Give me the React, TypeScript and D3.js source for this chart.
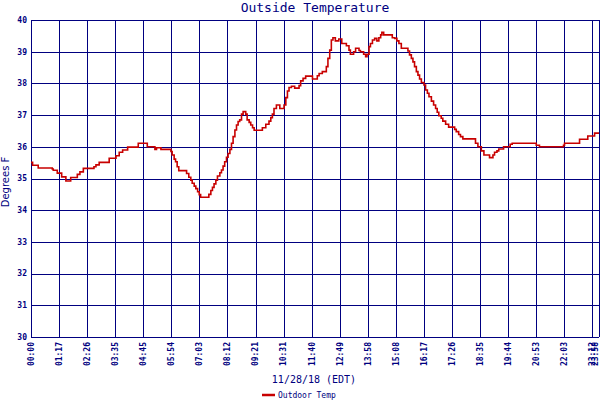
import React from "react";
import * as d3 from "d3";

// x positions are sample indices (the chart's x axis is sample-based, not time-linear)
const sampleIndex: number[] = [
  0, 0.8, 3.6, 10.6, 11.1, 13.1, 15.3, 17.4, 19.8, 23.1, 24.4, 26.1, 31.4, 32.4, 34.0, 39.0, 42.4, 44.0, 45.7, 48.2,
  53.5, 58.0, 61.8, 62.6, 64.8, 69.8, 70.4, 71.4, 72.1, 72.9, 73.7, 77.6, 78.7, 79.7, 80.4, 81.4, 82.2, 83.1, 83.9, 84.6,
  88.7, 89.7, 90.5, 91.3, 92.2, 93.0, 94.2, 95.0, 95.8, 96.6, 97.5, 98.3, 99.2, 100.0, 100.8, 101.7, 102.5, 103.3,
  104.1, 105.0, 105.8, 107.1, 107.8, 108.8, 109.6, 110.5, 111.3, 115.4, 117.1, 118.7, 119.6, 120.4, 121.2, 122.4, 124.1,
  126.2, 127.1, 127.9, 128.7, 129.9, 131.5, 133.7, 134.5, 135.7, 137.0, 140.4, 142.8, 143.7, 145.3, 147.3, 148.1, 149.0,
  149.8, 150.6, 151.8, 153.5, 155.0, 157.3, 158.6, 159.3, 160.9, 161.9, 163.6, 164.3, 165.9, 166.9, 167.6, 168.6, 169.3,
  170.3, 171.4, 172.5, 173.5, 174.4, 175.0, 175.9, 180.2, 181.4, 182.5, 183.5, 184.7, 188.0, 188.8, 189.7, 190.5, 191.3,
  192.2, 193.0, 193.8, 194.7, 196.0, 196.8, 197.7, 198.5, 199.7, 200.8, 201.8, 202.6, 203.4, 204.6, 205.4, 206.8, 208.3,
  211.3, 212.1, 213.3, 214.2, 215.4, 221.7, 222.9, 224.6, 225.9, 228.7, 230.4, 231.2, 232.4, 233.3, 235.7, 239.0, 240.0,
  252.0, 253.6, 265.6, 266.1, 273.6, 277.7, 281.1, 283.3,
];

const tempF: number[] = [
  35.51, 35.42, 35.33, 35.3, 35.26, 35.17, 35.05, 34.92, 35.03, 35.13, 35.21, 35.32, 35.37, 35.43, 35.51, 35.64, 35.72, 35.83, 35.9, 35.99,
  36.11, 36.0, 35.92, 35.97, 35.92, 35.85, 35.74, 35.61, 35.53, 35.37, 35.25, 35.16, 35.04, 34.95, 34.85, 34.76, 34.68, 34.58, 34.49, 34.41,
  34.5, 34.62, 34.72, 34.83, 34.95, 35.08, 35.18, 35.27, 35.39, 35.53, 35.67, 35.79, 35.92, 36.11, 36.32, 36.53, 36.69, 36.8,
  36.85, 37.03, 37.11, 37.03, 36.85, 36.77, 36.69, 36.6, 36.52, 36.6, 36.71, 36.81, 36.92, 37.03, 37.21, 37.32, 37.21,
  37.32, 37.55, 37.76, 37.87, 37.91, 37.85, 37.93, 38.08, 38.16, 38.23, 38.14, 38.24, 38.31, 38.37, 38.53, 38.79, 39.05,
  39.37, 39.44, 39.34, 39.4, 39.26, 39.19, 39.05, 38.92, 39.0, 39.11, 39.04, 39.0, 38.92, 38.84, 38.92, 39.16, 39.26,
  39.37, 39.42, 39.34, 39.44, 39.53, 39.61, 39.53, 39.44, 39.42, 39.34, 39.26, 39.11, 39.02, 38.9, 38.79, 38.68, 38.53,
  38.37, 38.26, 38.14, 38.03, 37.95, 37.79, 37.69, 37.58, 37.44, 37.32, 37.21, 37.09, 36.98, 36.9, 36.81, 36.71, 36.62,
  36.55, 36.48, 36.39, 36.32, 36.25, 36.11, 36.0, 35.87, 35.74, 35.66, 35.74, 35.83, 35.87, 35.93, 36.0, 36.08, 36.11,
  36.05, 36.0, 36.05, 36.11, 36.24, 36.34, 36.43, 36.43,
];

const xTickIndex: number[] = [0, 14, 28, 42, 56, 70, 84, 98, 112, 126, 140, 154, 168, 182, 196, 210, 224, 238, 252, 266, 280, 282.3];
const xTickLabels: string[] = [
  "00:00", "01:17", "02:26", "03:35", "04:45", "05:54", "07:03", "08:12", "09:21", "10:31", "11:40",
  "12:49", "13:58", "15:08", "16:17", "17:26", "18:35", "19:44", "20:53", "22:03", "23:12", "23:58",
];
const yTicks: number[] = [30, 31, 32, 33, 34, 35, 36, 37, 38, 39, 40];

const W = 600;
const H = 400;
const M = { left: 31, right: 599, top: 20, bottom: 337 };
const NAVY = "#000080";
const RED = "#c80000";
const MONO = "'DejaVu Sans Mono', 'Liberation Mono', monospace";

export default function App() {
  const x = d3.scaleLinear().domain([0, 283.3]).range([M.left, M.right]);
  const y = d3.scaleLinear().domain([30, 40]).range([M.bottom, M.top]);
  const pts = sampleIndex.map((s, i) => [s, tempF[i]] as [number, number]);
  const line = d3
    .line<[number, number]>()
    .x((d) => x(d[0]))
    .y((d) => y(d[1]))
    .curve(d3.curveStepAfter);

  const gridX = xTickIndex.slice(0, xTickIndex.length - 1);

  return (
    <div style={{ position: "fixed", left: 0, top: 0 }}>
      <svg width={W} height={H} style={{ display: "block", background: "#fff" }}>
        <rect x={0} y={0} width={W} height={H} fill="#fff" />
        <text x={315} y={12} textAnchor="middle" fontFamily={MONO} fontSize={13} fill={NAVY}>
          Outside Temperature
        </text>
        <g shapeRendering="crispEdges" stroke={NAVY} strokeWidth={1}>
          {yTicks.map((t) => (
            <line key={"h" + t} x1={M.left} x2={M.right} y1={Math.round(y(t)) + 0.5} y2={Math.round(y(t)) + 0.5} />
          ))}
          {gridX.map((t) => (
            <line key={"v" + t} x1={Math.round(x(t)) + 0.5} x2={Math.round(x(t)) + 0.5} y1={M.top} y2={M.bottom} />
          ))}
          <line x1={M.right + 0.5} x2={M.right + 0.5} y1={M.top} y2={M.bottom} />
        </g>
        <path d={line(pts) || ""} fill="none" stroke={RED} strokeWidth={1.6} />
        {yTicks.map((t) => (
          <text
            key={"yl" + t}
            x={27}
            y={y(t)}
            dy="0.35em"
            textAnchor="end"
            fontFamily={MONO}
            fontSize={8}
            fontWeight="bold"
            fill={NAVY}
          >
            {t}
          </text>
        ))}
        {xTickIndex.map((t, i) => (
          <text
            key={"xl" + i}
            transform={`translate(${Math.min(x(t), 595.5)},342) rotate(-90)`}
            dy="0.35em"
            textAnchor="end"
            fontFamily={MONO}
            fontSize={8}
            fontWeight="bold"
            fill={NAVY}
          >
            {xTickLabels[i]}
          </text>
        ))}
        <text
          transform={`translate(9,182) rotate(-90)`}
          textAnchor="middle"
          fontFamily="'DejaVu Sans', sans-serif"
          fontSize={10}
          fill={NAVY}
        >
          Degrees F
        </text>
        <text x={314} y={383} textAnchor="middle" fontFamily={MONO} fontSize={10} fill={NAVY}>
          11/28/18 (EDT)
        </text>
        <line x1={262} x2={275} y1={395} y2={395} stroke={RED} strokeWidth={2.5} />
        <text x={278} y={398} fontFamily={MONO} fontSize={8} fill={NAVY}>
          Outdoor Temp
        </text>
      </svg>
    </div>
  );
}
